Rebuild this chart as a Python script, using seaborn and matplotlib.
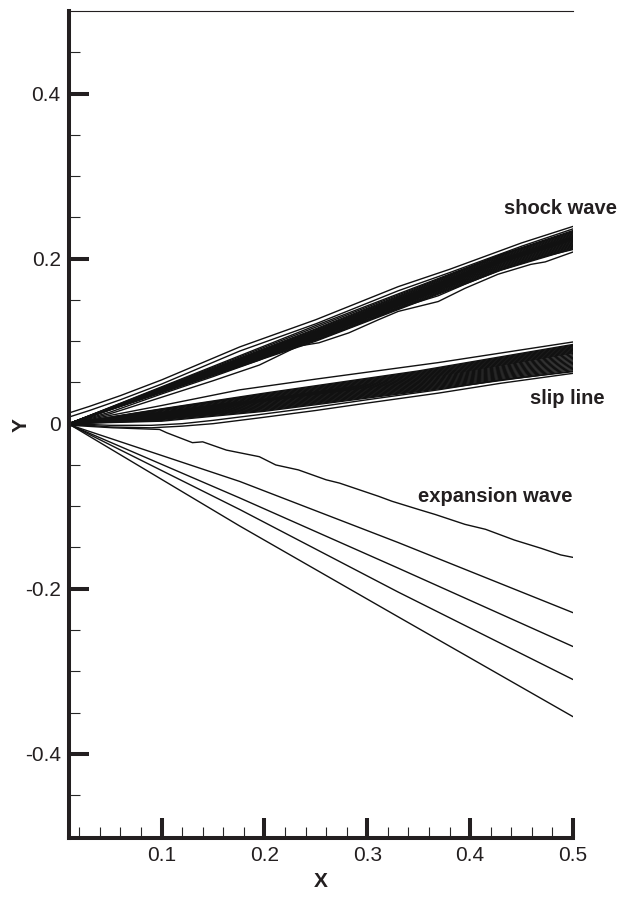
import numpy as np
import pandas as pd
import matplotlib
matplotlib.use("Agg")
import matplotlib.pyplot as plt
import seaborn as sns

# ---- data ----
# shock wave: dense core
shock_core_x = [0.01, 0.25, 0.43, 0.5]
shock_core_025 = [0.100, 0.101, 0.102, 0.103, 0.104, 0.1045, 0.105, 0.1055, 0.106, 0.1065,
                  0.107, 0.1075, 0.108, 0.1085, 0.109, 0.1095, 0.110, 0.1105, 0.111, 0.1115,
                  0.112, 0.113, 0.114, 0.115, 0.117, 0.119]
shock_core_043 = [0.186, 0.187, 0.188, 0.189, 0.190, 0.191, 0.192, 0.193, 0.194, 0.195,
                  0.1955, 0.196, 0.1965, 0.197, 0.1975, 0.198, 0.1985, 0.199, 0.1995, 0.200,
                  0.201, 0.202, 0.203, 0.204, 0.2045, 0.205]
shock_core_end = [0.212, 0.213, 0.214, 0.215, 0.216, 0.217, 0.218, 0.219, 0.220, 0.221,
                  0.222, 0.223, 0.2235, 0.224, 0.2245, 0.225, 0.2255, 0.226, 0.227, 0.228,
                  0.229, 0.230, 0.231, 0.232, 0.233, 0.234]

# shock wave: outer (wavy) contours
shock_top_x = [0.01, 0.03, 0.06, 0.1, 0.176, 0.25, 0.33, 0.38, 0.415, 0.45, 0.5]
shock_top1_y = [0.013, 0.021, 0.034, 0.053, 0.093, 0.126, 0.166, 0.187, 0.203, 0.219, 0.239]
shock_top2_y = [0.008, 0.016, 0.029, 0.048, 0.088, 0.121, 0.161, 0.183, 0.199, 0.215, 0.236]
shock_bot_x = [0.01, 0.05, 0.1, 0.15, 0.195, 0.233, 0.253, 0.282, 0.311, 0.33, 0.369,
               0.395, 0.427, 0.459, 0.473, 0.5]
shock_bot1_y = [0.0, 0.012, 0.032, 0.052, 0.071, 0.094, 0.098, 0.110, 0.126, 0.136, 0.148,
                0.164, 0.181, 0.193, 0.196, 0.208]
shock_bot2_y = [0.0, 0.014, 0.036, 0.057, 0.077, 0.098, 0.103, 0.116, 0.131, 0.140, 0.155,
                0.169, 0.185, 0.198, 0.203, 0.211]

# slip line: dense core
slip_core_x = [0.01, 0.1, 0.2, 0.35, 0.5]
slip_core_01 = [0.003, 0.004, 0.005, 0.0055, 0.006, 0.0065, 0.007, 0.0075, 0.008, 0.0085,
                0.009, 0.0095, 0.010, 0.0105, 0.011, 0.0115, 0.012, 0.0125, 0.013, 0.0135,
                0.014, 0.015, 0.016, 0.017, 0.0175, 0.018]
slip_core_02 = [0.015, 0.016, 0.017, 0.018, 0.019, 0.020, 0.021, 0.022, 0.023, 0.024,
                0.025, 0.026, 0.027, 0.0275, 0.028, 0.0285, 0.029, 0.0295, 0.030, 0.031,
                0.032, 0.033, 0.034, 0.035, 0.036, 0.037]
slip_core_035 = [0.039, 0.040, 0.041, 0.042, 0.043, 0.044, 0.045, 0.046, 0.047, 0.048,
                 0.049, 0.050, 0.051, 0.052, 0.053, 0.054, 0.055, 0.056, 0.057, 0.058,
                 0.059, 0.060, 0.061, 0.062, 0.063, 0.064]
slip_core_05 = [0.064, 0.0655, 0.067, 0.0685, 0.070, 0.0715, 0.073, 0.0745, 0.076, 0.0775,
                0.079, 0.0805, 0.082, 0.0835, 0.085, 0.086, 0.087, 0.088, 0.089, 0.090,
                0.091, 0.092, 0.093, 0.094, 0.095, 0.096]

# slip line: outer contours
slip_top_x = [0.01, 0.05, 0.1, 0.176, 0.25, 0.369, 0.5]
slip_top_y = [0.0, 0.010, 0.022, 0.041, 0.054, 0.074, 0.099]
slip_low_x = [0.01, 0.05, 0.09, 0.12, 0.15, 0.195, 0.25, 0.3, 0.369, 0.43, 0.5]
slip_low1_y = [0.0, -0.004, -0.005, -0.003, 0.0, 0.007, 0.016, 0.025, 0.037, 0.049, 0.061]
slip_low2_y = [0.0, -0.002, -0.002, 0.0, 0.004, 0.011, 0.020, 0.029, 0.041, 0.053, 0.063]

# expansion wave
exp_top_x = [0.012, 0.053, 0.098, 0.105, 0.130, 0.140, 0.163, 0.195, 0.211, 0.233, 0.260,
             0.273, 0.311, 0.324, 0.350, 0.366, 0.395, 0.415, 0.443, 0.469, 0.488, 0.5]
exp_top_y = [-0.002, -0.005, -0.007, -0.011, -0.023, -0.022, -0.032, -0.040, -0.050, -0.056,
             -0.068, -0.072, -0.088, -0.094, -0.104, -0.110, -0.122, -0.128, -0.141, -0.151,
             -0.159, -0.162]
exp_x = [0.012, 0.176, 0.330, 0.5]
exp2_y = [-0.002, -0.070, -0.144, -0.229]
exp3_y = [-0.002, -0.090, -0.175, -0.270]
exp4_y = [-0.002, -0.104, -0.204, -0.310]
exp5_y = [-0.002, -0.124, -0.234, -0.355]

x_major = [0.1, 0.2, 0.3, 0.4, 0.5]
x_labels = ["0.1", "0.2", "0.3", "0.4", "0.5"]
y_major = [-0.4, -0.2, 0.0, 0.2, 0.4]
y_labels = ["-0.4", "-0.2", "0", "0.2", "0.4"]
x_minor = [0.02, 0.04, 0.06, 0.08, 0.12, 0.14, 0.16, 0.18, 0.22, 0.24, 0.26, 0.28,
           0.32, 0.34, 0.36, 0.38, 0.42, 0.44, 0.46, 0.48]
y_minor = [-0.45, -0.35, -0.3, -0.25, -0.15, -0.1, -0.05, 0.05, 0.1, 0.15,
           0.25, 0.3, 0.35, 0.45]

# ---- build long table ----
rows = []
def add(name, xs, ys):
    for xv, yv in zip(xs, ys):
        rows.append((name, xv, yv))

for i in range(len(shock_core_end)):
    add(f"shock{i}", shock_core_x,
        [0.0, shock_core_025[i], shock_core_043[i], shock_core_end[i]])
add("shock_top1", shock_top_x, shock_top1_y)
add("shock_top2", shock_top_x, shock_top2_y)
add("shock_bot1", shock_bot_x, shock_bot1_y)
add("shock_bot2", shock_bot_x, shock_bot2_y)
for i in range(len(slip_core_05)):
    add(f"slip{i}", slip_core_x,
        [0.0, slip_core_01[i], slip_core_02[i], slip_core_035[i], slip_core_05[i]])
add("slip_top", slip_top_x, slip_top_y)
add("slip_low1", slip_low_x, slip_low1_y)
add("slip_low2", slip_low_x, slip_low2_y)
add("exp1", exp_top_x, exp_top_y)
add("exp2", exp_x, exp2_y)
add("exp3", exp_x, exp3_y)
add("exp4", exp_x, exp4_y)
add("exp5", exp_x, exp5_y)

df = pd.DataFrame(rows, columns=["line", "X", "Y"])

# ---- plot ----
sns.set_theme(style="white")
plt.rcParams["font.family"] = ["Liberation Sans", "DejaVu Sans"]
plt.rcParams["axes.unicode_minus"] = False

fig, ax = plt.subplots(figsize=(6.2, 8.98), dpi=100)
fig.subplots_adjust(left=69/620, right=573/620, top=1-11/898, bottom=1-838/898)

sns.lineplot(data=df, x="X", y="Y", units="line", estimator=None, sort=False,
             color="#111111", linewidth=1.0, ax=ax)

ax.set_xlim(0.01, 0.5)
ax.set_ylim(-0.502, 0.5)

ax.set_xticks(x_major)
ax.set_xticklabels(x_labels)
ax.set_yticks(y_major)
ax.set_yticklabels(y_labels)
ax.set_xticks(x_minor, minor=True)
ax.set_yticks(y_minor, minor=True)

ax.tick_params(which="major", direction="in", length=14.5, width=2.9, labelsize=15,
               colors="#231f20", pad=6, bottom=True, left=True, top=False, right=False)
ax.tick_params(which="minor", direction="in", length=8, width=0.8,
               bottom=True, left=True, top=False, right=False)

for s in ["left", "bottom"]:
    ax.spines[s].set_linewidth(2.9)
    ax.spines[s].set_color("#231f20")
ax.spines["top"].set_linewidth(0.8)
ax.spines["top"].set_color("#231f20")
ax.spines["right"].set_visible(False)

ax.set_xlabel("X", fontsize=15, fontweight="bold", color="#231f20")
ax.set_ylabel("Y", fontsize=15, fontweight="bold", color="#231f20")
ax.xaxis.set_label_coords(0.5, -0.041)
ax.yaxis.set_label_coords(-0.077, 0.5)

ax.text(0.543, 0.261, "shock wave", ha="right", va="center", fontsize=14.5,
        fontweight="bold", color="#231f20", clip_on=False)
ax.text(0.531, 0.031, "slip line", ha="right", va="center", fontsize=14.5,
        fontweight="bold", color="#231f20", clip_on=False)
ax.text(0.5, -0.088, "expansion wave", ha="right", va="center", fontsize=14.5,
        fontweight="bold", color="#231f20", clip_on=False)

fig.savefig("out.png", dpi=100)
